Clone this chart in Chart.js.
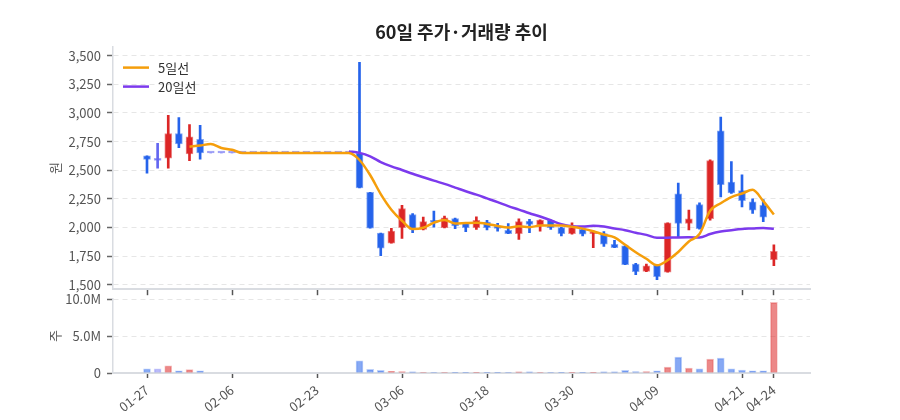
<!DOCTYPE html>
<html>
<head>
<meta charset="utf-8">
<script src="https://cdn.jsdelivr.net/npm/chart.js@4.4.1/dist/chart.umd.min.js"></script>
<style>
  body { margin: 0; background: #fff; }
  #wrap { position: relative; width: 900px; height: 420px; }
  canvas { position: absolute; left: 0; }
  #price { top: 0; }
  #vol { top: 280px; }
</style>
</head>
<body>
<div id="wrap">
  <canvas id="price" width="900" height="303"></canvas>
  <canvas id="vol" width="900" height="140"></canvas>
</div>
<script>
const dates = ['01-27','01-28','01-29','01-30','02-02','02-03','02-04','02-05','02-06','02-09',
  '02-10','02-11','02-12','02-13','02-19','02-20','02-23','02-24','02-25','02-26',
  '02-27','03-03','03-04','03-05','03-06','03-09','03-10','03-11','03-12','03-13',
  '03-16','03-17','03-18','03-19','03-20','03-23','03-24','03-25','03-26','03-27',
  '03-30','03-31','04-01','04-02','04-03','04-06','04-07','04-08','04-09','04-10',
  '04-13','04-14','04-15','04-16','04-17','04-20','04-21','04-22','04-23','04-24'];
const tickIdx = [0, 8, 16, 24, 32, 40, 48, 56, 59];

const opens = [2625,2586,2605,2821,2642,2769,2650,2650,2650,2650,
  2650,2650,2650,2650,2650,2650,2650,2650,2650,2650,
  2650,2306,1951,1862,1998,2113,1983,2050,1998,2078,
  2041,1998,2047,2012,1974,1946,2055,2020,2061,1998,
  1946,1983,1945,1946,1853,1838,1680,1616,1671,1608,
  2293,2035,2200,2076,2844,2397,2321,2223,2194,1717];
const highs = [2625,2735,2980,2960,2899,2893,2650,2650,2650,2650,
  2650,2650,2650,2650,2650,2650,2650,2650,2650,2650,
  3442,2306,1951,1992,2194,2120,2090,2142,2098,2082,
  2045,2093,2061,2035,2033,2076,2070,2066,2064,2000,
  2041,1990,1968,1963,1888,1838,1685,1680,1675,2041,
  2388,2151,2215,2590,2965,2575,2460,2249,2243,1847];
const lows = [2475,2518,2518,2697,2584,2596,2650,2650,2650,2650,
  2650,2650,2650,2650,2650,2650,2650,2650,2650,2650,
  2345,1994,1752,1862,1903,1955,1978,2003,1995,1989,
  1963,1983,1977,1968,1946,1896,1955,1968,1983,1925,
  1940,1925,1824,1833,1824,1674,1587,1613,1544,1608,
  1920,1977,1985,2064,2267,2298,2180,2122,2050,1665];
const closes = [2595,2586,2821,2729,2792,2650,2650,2650,2650,2650,
  2650,2650,2650,2650,2650,2650,2650,2650,2650,2650,
  2345,1994,1818,1968,2165,1983,2050,2044,2084,2012,
  1998,2061,1998,1992,1946,2050,2026,2064,1998,1946,
  1998,1940,1950,1853,1824,1674,1613,1665,1570,2041,
  2035,2076,1989,2584,2373,2301,2234,2150,2090,1790];
const volumes = [580000,580000,980000,310000,450000,310000,0,0,0,0,
  0,0,0,0,0,0,0,0,0,0,
  1650000,480000,350000,220000,200000,150000,60000,60000,60000,20000,
  20000,50000,50000,20000,60000,170000,170000,60000,60000,50000,
  50000,20000,50000,150000,150000,350000,200000,200000,300000,800000,
  2140000,670000,580000,1870000,2000000,580000,400000,310000,310000,9550000];

// moving averages of the closing prices
function movingAvg(arr, n) {
  return arr.map((_, i) => i < n - 1 ? null : arr.slice(i - n + 1, i + 1).reduce((a, b) => a + b, 0) / n);
}
const ma5 = movingAvg(closes, 5);
const ma20 = movingAvg(closes, 20);

const UP = [220, 38, 38], DOWN = [37, 99, 235], FLAT = [99, 102, 241];
const rgba = (c, a) => `rgba(${c[0]},${c[1]},${c[2]},${a})`;
const tone = i => closes[i] > opens[i] ? UP : (closes[i] < opens[i] ? DOWN : FLAT);

Chart.defaults.font.family = "'Noto Sans CJK KR', 'Noto Sans', sans-serif";
Chart.defaults.animation = false;

const idx = dates.map((_, i) => i);
const setTicks = s => { s.ticks = tickIdx.map(v => ({ value: v })); };

const maLegend = {
  id: 'maLegend',
  afterDraw(chart) {
    const { ctx, chartArea } = chart;
    const items = chart.data.datasets.filter(d => d.type === 'line');
    ctx.save();
    ctx.font = "13px 'Noto Sans CJK KR'";
    ctx.textBaseline = 'middle';
    items.forEach((d, k) => {
      const x = chartArea.left + 10, y = chartArea.top + 21 + k * 19;
      ctx.strokeStyle = d.borderColor;
      ctx.lineWidth = 2.5;
      ctx.beginPath();
      ctx.moveTo(x, y);
      ctx.lineTo(x + 26, y);
      ctx.stroke();
      ctx.fillStyle = '#333';
      ctx.fillText(d.label, x + 35, y);
    });
    ctx.restore();
  }
};

const yAxisCommon = (title) => ({
  afterFit: s => { s.width = 113; },
  grid: { color: '#e6e6e6', tickColor: '#666', tickLength: 6, tickWidth: 1.5, tickBorderDash: [] },
  border: { color: '#d9dce1', width: 1.5, dash: [5, 4] },
  title: { display: true, text: title, color: '#555', font: { size: 13 }, padding: { top: 47, bottom: 0 } }
});

new Chart(document.getElementById('price'), {
  type: 'bar',
  data: {
    datasets: [
      {
        type: 'line', label: '5일선', order: 0,
        data: idx.map(i => ({ x: i, y: ma5[i] })),
        borderColor: '#f59e0b', borderWidth: 2.5, pointRadius: 0,
        cubicInterpolationMode: 'monotone'
      },
      {
        type: 'line', label: '20일선', order: 0,
        data: idx.map(i => ({ x: i, y: ma20[i] })),
        borderColor: '#7c3aed', borderWidth: 2.5, pointRadius: 0,
        cubicInterpolationMode: 'monotone'
      },
      {
        label: 'body', order: 1, grouped: false,
        data: idx.map(i => ({ x: i, y: [opens[i], closes[i]] })),
        backgroundColor: idx.map(i => rgba(tone(i), 1)),
        borderColor: idx.map(i => rgba(tone(i), 0.55)),
        borderWidth: 1, borderSkipped: false, barThickness: 7, minBarLength: 2
      },
      {
        label: 'wick', order: 2, grouped: false,
        data: idx.map(i => ({ x: i, y: [lows[i], highs[i]] })),
        backgroundColor: idx.map(i => rgba(tone(i), 1)),
        barThickness: 2
      }
    ]
  },
  options: {
    responsive: false,
    layout: { padding: { top: 0, right: 90, bottom: 0, left: 0 } },
    plugins: {
      legend: { display: false },
      tooltip: { enabled: false },
      title: {
        display: true, fullSize: false, text: '60일 주가·거래량 추이',
        color: '#222', font: { size: 18, weight: 'bold' }, padding: { top: 21, bottom: 4 }
      }
    },
    scales: {
      x: {
        type: 'linear', min: -3.2, max: 62.4, offset: false,
        afterBuildTicks: setTicks,
        afterFit: s => { s.height = 10; },
        ticks: { display: false },
        grid: { offset: false, drawOnChartArea: false, tickLength: 6, tickColor: '#555', tickWidth: 1.5 },
        border: { color: '#d9dce1', width: 2 }
      },
      y: Object.assign(yAxisCommon('원'), {
        min: 1460, max: 3580,
        ticks: { color: '#555', font: { size: 13 }, padding: 6, includeBounds: false, stepSize: 250,
          callback: v => v.toLocaleString('en-US') }
      })
    }
  },
  plugins: [maLegend]
});

new Chart(document.getElementById('vol'), {
  type: 'bar',
  data: {
    datasets: [{
      label: '거래량', grouped: false,
      data: idx.map(i => ({ x: i, y: volumes[i] })),
      backgroundColor: idx.map(i => rgba(tone(i), tone(i) === FLAT ? 0.45 : 0.55)),
      borderColor: idx.map(i => rgba(tone(i), 0.3)),
      borderWidth: 1, barThickness: 7
    }]
  },
  options: {
    responsive: false,
    layout: { padding: { top: 19, right: 90, bottom: 0, left: 0 } },
    plugins: { legend: { display: false }, tooltip: { enabled: false } },
    scales: {
      x: {
        type: 'linear', min: -3.2, max: 62.4, offset: false,
        afterBuildTicks: setTicks,
        afterFit: s => { s.height = 47; },
        ticks: { autoSkip: false, minRotation: 38, maxRotation: 38, padding: 4,
          color: '#555', font: { size: 13 }, callback: v => dates[v] },
        grid: { offset: false, drawOnChartArea: false, tickLength: 5, tickColor: '#555', tickWidth: 1.5 },
        border: { color: '#d9dce1', width: 2 }
      },
      y: Object.assign(yAxisCommon('주'), {
        min: 0, max: 10000000,
        ticks: { color: '#555', font: { size: 13 }, padding: 6, includeBounds: false, stepSize: 5000000,
          callback: v => v === 0 ? '0' : (v / 1e6).toFixed(1) + 'M' }
      })
    }
  }
});
</script>
</body>
</html>
